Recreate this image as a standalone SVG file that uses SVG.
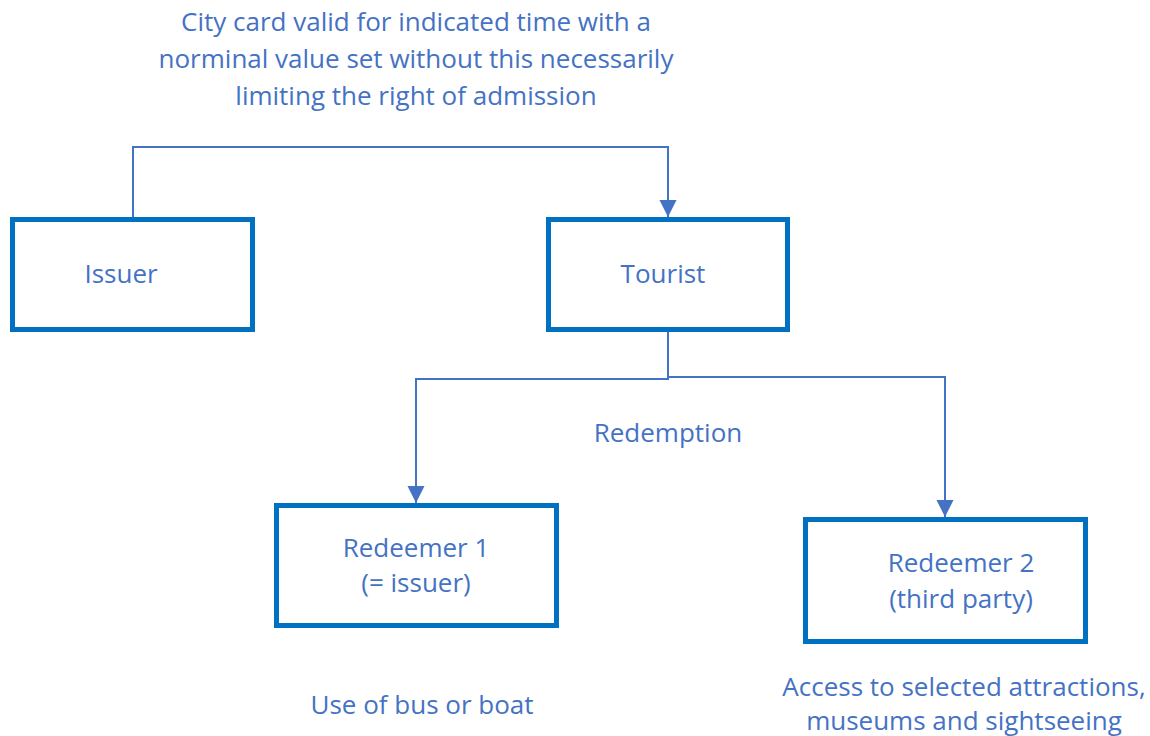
<svg xmlns="http://www.w3.org/2000/svg" width="1150" height="736" viewBox="0 0 1150 736">
  <style>
    .box { fill: #ffffff; stroke: #0070C0; stroke-width: 5; }
    .lbl { font-family: "Open Sans", "Liberation Sans", sans-serif; font-size: 26px; fill: #4472C4; text-anchor: middle; }
    .conn { fill: none; stroke: #4472C4; stroke-width: 2; }
  </style>
  <defs>
    <marker id="arrow" markerUnits="userSpaceOnUse" markerWidth="18" markerHeight="20" viewBox="0 0 18 20" refX="17" refY="10" orient="auto">
      <path d="M0,1.5 L17,10 L0,18.5 Z" fill="#4472C4"/>
    </marker>
  </defs>

  <rect width="1150" height="736" fill="#ffffff"/>

  <!-- caption above the issue flow -->
  <g id="caption">
    <text class="lbl" x="416" y="31">City card valid for indicated time with a</text>
    <text class="lbl" x="416" y="68">norminal value set without this necessarily</text>
    <text class="lbl" x="416" y="105">limiting the right of admission</text>
  </g>

  <!-- connectors -->
  <g id="connectors">
    <path class="conn" d="M133,217 V147 H668 V217" marker-end="url(#arrow)"/>
    <path class="conn" d="M668,332 V379 H416 V503" marker-end="url(#arrow)"/>
    <path class="conn" d="M668,377 H945 V517" marker-end="url(#arrow)"/>
  </g>

  <g id="issuer">
    <rect class="box" x="12.5" y="219.5" width="240" height="110"/>
    <text class="lbl" x="121" y="283">Issuer</text>
  </g>

  <g id="tourist">
    <rect class="box" x="548.5" y="219.5" width="239" height="110"/>
    <text class="lbl" x="663" y="283">Tourist</text>
  </g>

  <g id="redemption-label">
    <text class="lbl" x="668" y="442">Redemption</text>
  </g>

  <g id="redeemer1">
    <rect class="box" x="276.5" y="505.5" width="280" height="120"/>
    <text class="lbl" x="416" y="557">Redeemer 1</text>
    <text class="lbl" x="416" y="592">(= issuer)</text>
  </g>

  <g id="redeemer2">
    <rect class="box" x="805.5" y="519.5" width="280" height="122"/>
    <text class="lbl" x="961" y="572">Redeemer 2</text>
    <text class="lbl" x="961" y="608">(third party)</text>
  </g>

  <g id="redeemer1-note">
    <text class="lbl" x="422" y="714">Use of bus or boat</text>
  </g>

  <g id="redeemer2-note">
    <text class="lbl" x="964" y="696">Access to selected attractions,</text>
    <text class="lbl" x="964" y="730">museums and sightseeing</text>
  </g>
</svg>
